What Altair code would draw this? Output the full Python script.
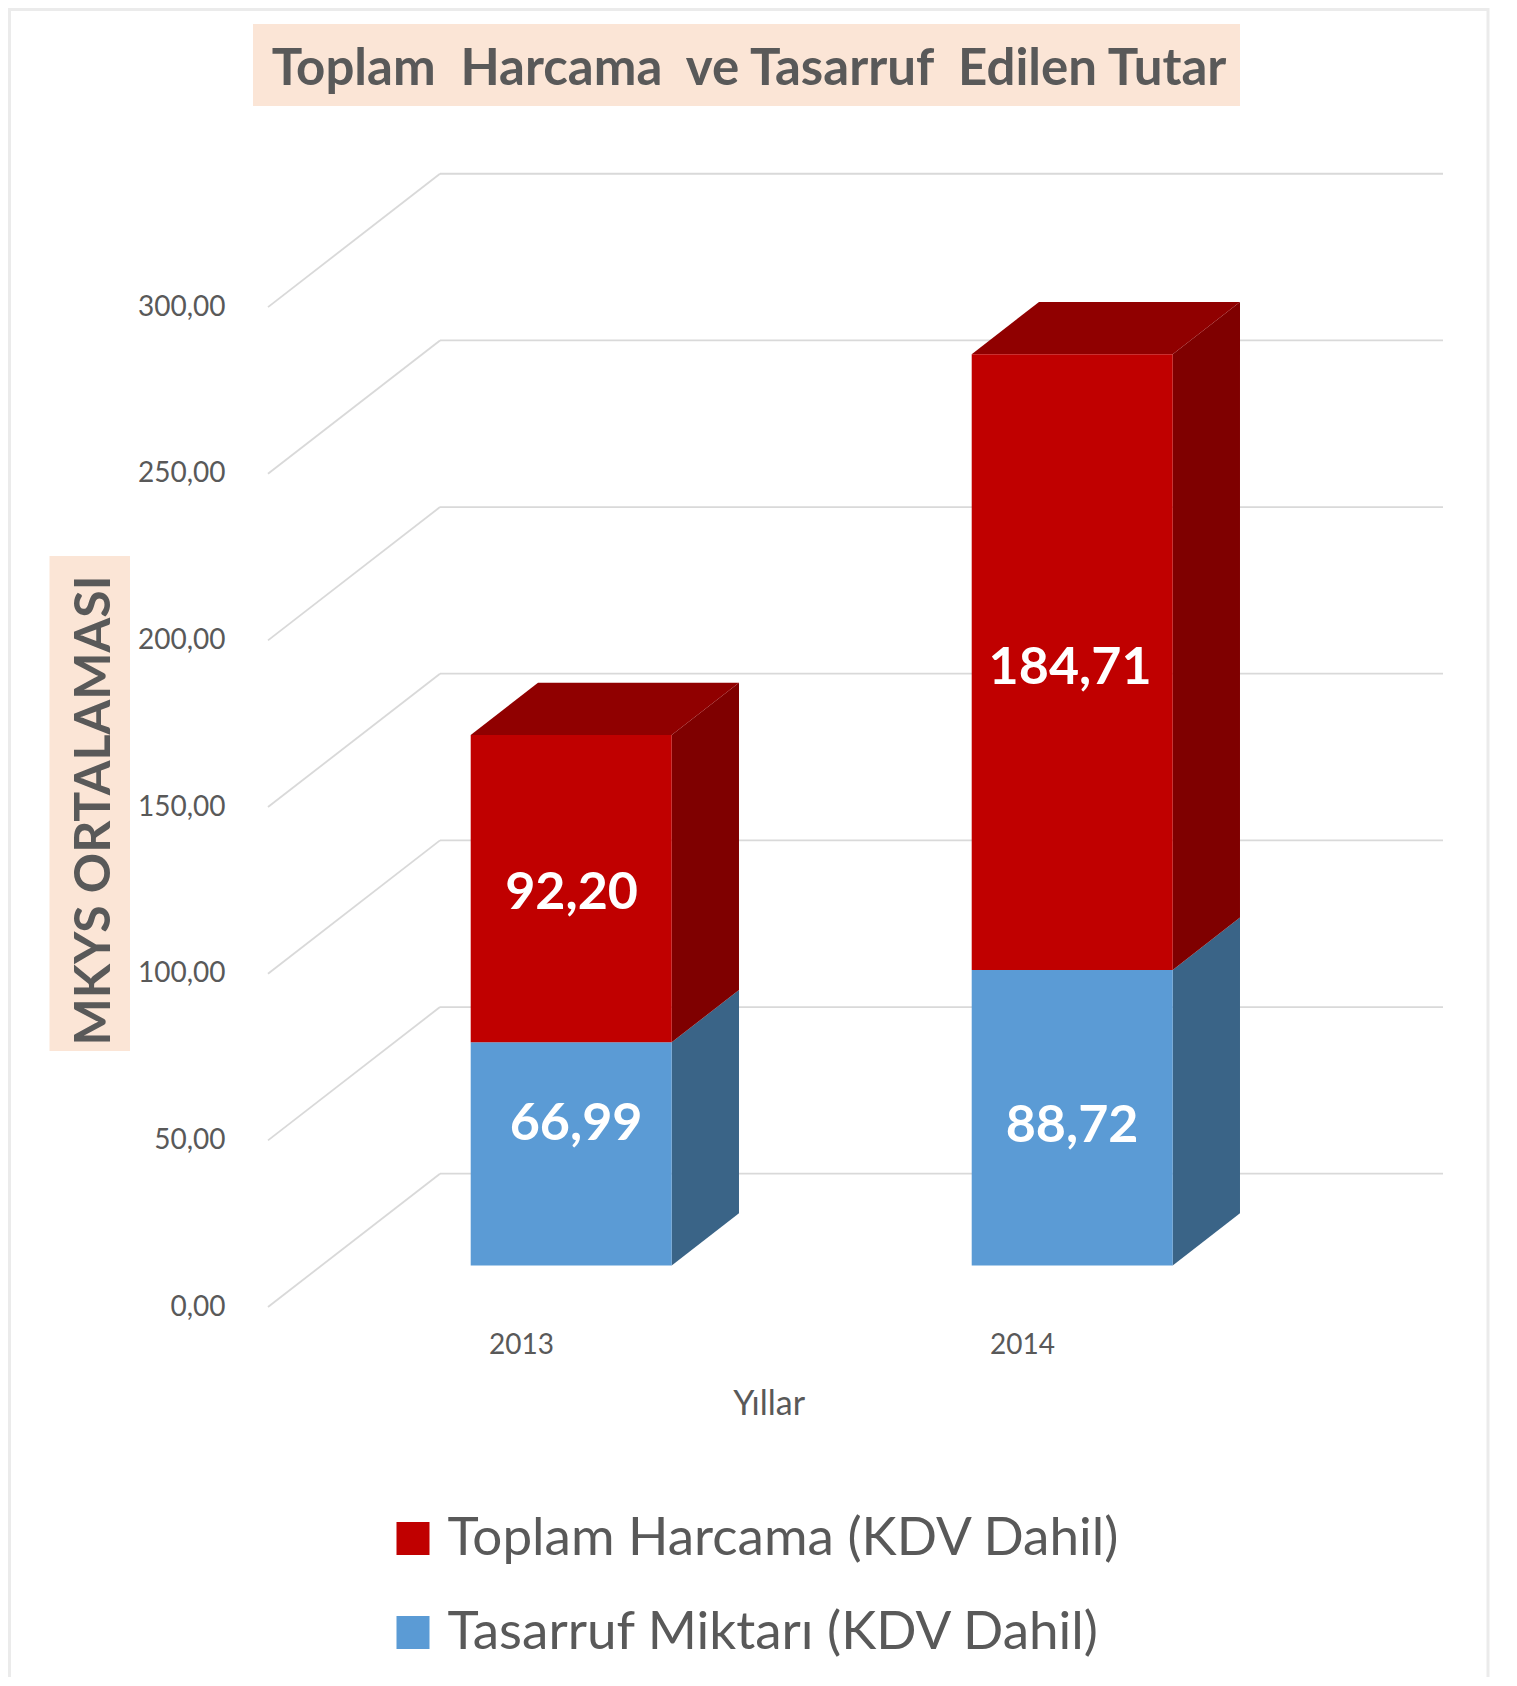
import altair as alt
import pandas as pd

# values
years = [2013, 2014]
saving = [66.99, 88.72]
total = [92.20, 184.71]
saving_name = "Tasarruf Miktarı (KDV Dahil)"
total_name = "Toplam Harcama (KDV Dahil)"
grid_values = [0, 50, 100, 150, 200, 250, 300]
label_x = [2013.110, 2013.101, 2014.100, 2014.096]
label_y = [54.9, 124.2, 54.4, 191.6]
label_text = ["66,99", "92,20", "88,72", "184,71"]
chart_title = "Toplam \u00a0Harcama \u00a0ve Tasarruf \u00a0Edilen Tutar"

# pseudo-3D geometry, in data units
FLOOR = 12.42
BAR_SHIFT = 0.1002
BAR_HALF = 0.2006
BAR_DX = 0.1343
BAR_DY = 15.7
WALL_DX = 0.3433
WALL_DY = 40.0
X_DOMAIN = [2012.495, 2014.8403]
Y_DOMAIN = [0, 340.08]

FONT = "Lato"
GRAY = "#595959"
PEACH = "#FBE5D6"

fronts, sides_blue, sides_red, tops = [], [], [], []
for i, yr in enumerate(years):
    l = yr + BAR_SHIFT - BAR_HALF
    r = yr + BAR_SHIFT + BAR_HALF
    b0 = FLOOR
    b1 = FLOOR + saving[i]
    b2 = b1 + total[i]
    fronts.append(dict(x=l, x2=r, y=b0, y2=b1, series=saving_name))
    fronts.append(dict(x=l, x2=r, y=b1, y2=b2, series=total_name))
    sides_blue += [dict(id=yr, x=r, y=b1, y2=b0), dict(id=yr, x=r + BAR_DX, y=b1 + BAR_DY, y2=b0 + BAR_DY)]
    sides_red += [dict(id=yr, x=r, y=b2, y2=b1), dict(id=yr, x=r + BAR_DX, y=b2 + BAR_DY, y2=b1 + BAR_DY)]
    tops += [
        dict(id=yr, x=l, y=b2, y2=b2),
        dict(id=yr, x=l + BAR_DX, y=b2 + BAR_DY, y2=b2),
        dict(id=yr, x=r, y=b2 + BAR_DY, y2=b2),
        dict(id=yr, x=r + BAR_DX, y=b2 + BAR_DY, y2=b2 + BAR_DY),
    ]

x0 = X_DOMAIN[0]
wall = pd.DataFrame(dict(x=[x0 + WALL_DX] * 7, x2=[X_DOMAIN[1]] * 7, y=[v + WALL_DY for v in grid_values]))
diag = pd.DataFrame(dict(x=[x0] * 7, x2=[x0 + WALL_DX] * 7, y=list(grid_values), y2=[v + WALL_DY for v in grid_values]))
labels = pd.DataFrame(dict(x=label_x, y=label_y, t=label_text))

xs = alt.Scale(domain=X_DOMAIN, nice=False, zero=False)
ys = alt.Scale(domain=Y_DOMAIN, nice=False, zero=False)

x_axis = alt.Axis(
    values=years, format="d", title="Yıllar", grid=False, ticks=False, domain=False,
    labelFont=FONT, labelFontSize=28, labelColor=GRAY, labelPadding=24, labelFlush=False,
    titleFont=FONT, titleFontSize=34, titleColor=GRAY, titleFontWeight="normal",
    titleX=500.7, titleY=97, titleBaseline="middle", titleAlign="center", zindex=1,
)
y_axis = alt.Axis(
    values=grid_values, title="MKYS ORTALAMASI", grid=False, ticks=False, domain=False,
    labelExpr="replace(format(datum.value, '.2f'), '.', ',')",
    labelFont=FONT, labelFontSize=28, labelColor=GRAY, labelPadding=43,
    titleFont=FONT, titleFontSize=50, titleColor=GRAY, titleFontWeight="bold",
    titleX=-173.5, titleY=636.5, titleAngle=-90, titleBaseline="middle", titleAlign="center", zindex=1,
)
X = alt.X("x:Q", scale=xs, axis=x_axis)
Y = alt.Y("y:Q", scale=ys, axis=y_axis)

one = pd.DataFrame({"a": [0]})

border = alt.Chart(one).mark_rect(fill="transparent", stroke="#EBEBEB", strokeWidth=3).encode(
    x=alt.value(-258.5), x2=alt.value(1220), y=alt.value(-164), y2=alt.value(1600)
)
title_box = alt.Chart(one).mark_rect(fill=PEACH).encode(
    x=alt.value(-15), x2=alt.value(972), y=alt.value(-149.5), y2=alt.value(-67.5)
)
title_text = alt.Chart(one).mark_text(
    font=FONT, fontSize=51, fontWeight="bold", color=GRAY, align="center", baseline="alphabetic"
).encode(x=alt.value(481), y=alt.value(-88.5), text=alt.value(chart_title))
ytitle_box = alt.Chart(one).mark_rect(fill=PEACH).encode(
    x=alt.value(-218.5), x2=alt.value(-138), y=alt.value(382.5), y2=alt.value(877.5)
)

grid_wall = alt.Chart(wall).mark_rule(color="#D9D9D9", strokeWidth=1.8).encode(x=X, x2="x2:Q", y=Y)
grid_diag = alt.Chart(diag).mark_rule(color="#D9D9D9", strokeWidth=1.8).encode(x=X, x2="x2:Q", y=Y, y2="y2:Q")

front = alt.Chart(pd.DataFrame(fronts)).mark_rect(strokeWidth=0).encode(
    x=X,
    x2="x2:Q",
    y=Y,
    y2="y2:Q",
    color=alt.Color(
        "series:N",
        scale=alt.Scale(domain=[total_name, saving_name], range=["#C00000", "#5B9BD5"]),
        legend=alt.Legend(
            title=None, orient="none", legendX=118.5, legendY=1338.5, padding=0,
            symbolType="square", symbolSize=1089, symbolStrokeWidth=0,
            labelFont=FONT, labelFontSize=53, labelColor=GRAY, labelOffset=8,
            labelLimit=900, rowPadding=40,
        ),
    ),
)

def face(rows, colour):
    return alt.Chart(pd.DataFrame(rows)).mark_area(color=colour, orient="vertical").encode(
        x=X, y=Y, y2="y2:Q", detail="id:N"
    )

text = alt.Chart(labels).mark_text(
    font=FONT, fontSize=52, fontWeight="bold", color="white", align="center", baseline="middle"
).encode(x=X, y=Y, text="t:N")

chart = alt.layer(
    border, title_box, title_text, ytitle_box, grid_wall, grid_diag,
    face(sides_blue, "#3A6487"), face(sides_red, "#7F0000"), face(tops, "#900000"),
    front, text,
).properties(
    width=1175, height=1133.5,
    padding={"left": 260, "top": 165.5, "right": 66, "bottom": 370},
    autosize=alt.AutoSizeParams(type="none"),
).configure_view(stroke=None)

chart.save("out.html", embed_options={"renderer": "svg", "actions": False})
